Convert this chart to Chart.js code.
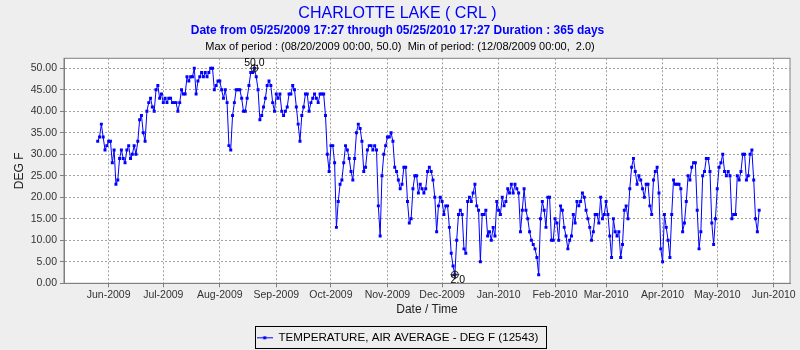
<!DOCTYPE html>
<html>
<head>
<meta charset="utf-8">
<script src="https://cdn.jsdelivr.net/npm/chart.js@4.4.1/dist/chart.umd.min.js"></script>
<style>
    html, body { margin: 0; padding: 0; background: #eeeeee; }
    #chart_wrap { width: 800px; height: 350px; position: relative; }
</style>
</head>
<body>
<div id="chart_wrap"><canvas id="temperature_chart"></canvas></div>
<script>
// daily air temperature, first value is 05/26/2009
const startDate = "2009-05-26";
const temperatures = [
    33, 34, 37, 34, 31, 32, 33, 33, 28, 31, 23, 24, 29, 31, 29, 28, 31, 32, 29, 30,
    32, 30, 33, 38, 39, 35, 33, 40, 42, 43, 41, 40, 45, 46, 43, 44, 42, 43, 42, 43,
    43, 42, 42, 42, 40, 42, 45, 44, 44, 48, 47, 48, 48, 50, 44, 47, 48,
    49, 48, 49, 48, 49, 50, 50, 45, 46, 47, 47, 45, 43, 45, 42, 32, 31, 39, 42, 45,
    45, 45, 43, 40, 40, 43, 46, 49, 49, 50, 48, 45, 38, 39, 41, 43, 46, 47, 46, 42,
    40, 44, 43, 44, 40, 39, 40, 41, 44, 44, 46, 45, 41, 37, 33, 39, 41, 44, 44, 40,
    42, 43, 44, 43, 42, 44, 44, 44, 39, 30, 26, 32, 32, 28, 13, 19, 23, 24, 28, 32,
    31, 29, 26, 24, 29, 35, 37, 36, 33, 26, 27, 31, 32, 32, 31, 32, 31, 18, 11, 25,
    30, 32, 34, 34, 35, 33, 27, 26, 24, 22, 23, 27, 27, 19, 14, 15, 22, 25, 25, 21,
    23, 22, 21, 22, 26, 27, 26, 24, 20, 12, 18, 20,
    19, 16, 18, 18, 13, 7, 4, 2, 10, 16, 17, 16, 8, 7, 19, 20, 19, 21, 23, 18,
    17, 5, 16, 16, 17, 11, 12, 10, 13, 11, 19, 17, 16, 20, 18, 19, 22, 21, 23, 21,
    23, 22, 21, 12, 17, 22, 17, 15, 12, 10, 9, 8, 6, 2, 15, 19, 17, 13, 20, 20,
    10, 10, 15, 14, 10, 18,
    17, 13, 11, 8, 10, 11, 16, 14, 19, 18, 19, 21, 20, 17, 15, 13, 10, 12, 16, 16,
    14, 20, 15, 16, 19, 16, 11, 6, 15, 12, 11, 12, 6, 9, 17, 18, 15, 22, 27, 29,
    26, 23, 25, 24, 22, 20, 23, 23, 18, 16, 24, 26, 27, 21, 8, 5, 16, 13, 10,
    6, 16, 24, 23, 23, 23, 22, 12, 14, 19, 25, 24, 27, 28, 28, 17, 8, 12, 25, 26,
    29, 29, 26, 14, 9, 15, 22, 27, 28, 30, 26, 25, 26, 25, 15, 16, 16, 25, 24, 26,
    30, 30, 24, 25, 30, 31, 24, 15, 12, 17
];

const xTickLabels = ["Jun-2009", "Jul-2009", "Aug-2009", "Sep-2009", "Oct-2009", "Nov-2009", "Dec-2009",
    "Jan-2010", "Feb-2010", "Mar-2010", "Apr-2010", "May-2010", "Jun-2010"];
const yTicks = [0, 5, 10, 15, 20, 25, 30, 35, 40, 45, 50];
const xRange = ["2009-05-07T12:00:00Z", "2010-06-09T22:00:00Z"];
const yRange = [0, 52.3];

const chartTitle = "CHARLOTTE LAKE ( CRL )";
const chartSubtitle = "Date from 05/25/2009 17:27 through 05/25/2010 17:27 Duration : 365 days";
const periodText = "Max of period : (08/20/2009 00:00, 50.0)  Min of period: (12/08/2009 00:00,  2.0)";
const seriesName = "TEMPERATURE, AIR AVERAGE - DEG F (12543)";
const maxMark = { date: "2009-08-20", label: "50.0" };
const minMark = { date: "2009-12-08", label: "2.0" };

const DAY = 86400000;
const MONTHS = ["Jan", "Feb", "Mar", "Apr", "May", "Jun", "Jul", "Aug", "Sep", "Oct", "Nov", "Dec"];
const t0 = Date.parse(startDate + "T00:00:00Z");
const points = temperatures.map((v, i) => ({ x: t0 + i * DAY, y: v }));
const monthTicks = xTickLabels.map(l => Date.UTC(+l.slice(4), MONTHS.indexOf(l.slice(0, 3)), 1));

const FONT = "'Liberation Sans', Arial, sans-serif";
Chart.defaults.font.family = FONT;

// little "-*-" icon for the legend
const legendIcon = document.createElement("canvas");
legendIcon.width = 16;
legendIcon.height = 5;
(function () {
    const c = legendIcon.getContext("2d");
    c.strokeStyle = "#0000ff";
    c.lineWidth = 1;
    c.beginPath();
    c.moveTo(0, 2.5);
    c.lineTo(16, 2.5);
    c.stroke();
    c.fillStyle = "#0000ff";
    c.fillRect(6.5, 1, 3, 3);
})();

function drawMark(chart, mark, above) {
    const idx = points.findIndex(p => p.x === Date.parse(mark.date + "T00:00:00Z"));
    if (idx < 0) return;
    const ctx = chart.ctx;
    const px = chart.scales.x.getPixelForValue(points[idx].x);
    const py = chart.scales.y.getPixelForValue(points[idx].y);
    ctx.save();
    ctx.strokeStyle = "#222";
    ctx.lineWidth = 1;
    ctx.beginPath();
    ctx.arc(px, py, 3.5, 0, Math.PI * 2);
    ctx.moveTo(px - 4.5, py);
    ctx.lineTo(px + 4.5, py);
    ctx.moveTo(px, py - 4.5);
    ctx.lineTo(px, py + 4.5);
    ctx.stroke();
    ctx.fillStyle = "#000";
    ctx.font = "10.5px " + FONT;
    ctx.textAlign = "center";
    if (above) {
        ctx.textBaseline = "alphabetic";
        ctx.fillText(mark.label, px, py - 2.5);
    } else {
        ctx.textBaseline = "top";
        ctx.fillText(mark.label, px + 3, py);
    }
    ctx.restore();
}

const plotFrame = {
    id: "plotFrame",
    beforeDraw(chart) {
        const a = chart.chartArea;
        chart.ctx.save();
        chart.ctx.fillStyle = "#ffffff";
        chart.ctx.fillRect(a.left, a.top, a.width, a.height);
        chart.ctx.restore();
    },
    afterDatasetsDraw(chart) {
        const a = chart.chartArea;
        const ctx = chart.ctx;
        ctx.save();
        ctx.strokeStyle = "#808080";
        ctx.lineWidth = 1;
        ctx.strokeRect(a.left, a.top, a.width, a.height);
        ctx.restore();
        drawMark(chart, maxMark, true);
        drawMark(chart, minMark, false);
    },
    afterDraw(chart) {
        const ctx = chart.ctx;
        ctx.save();
        ctx.fillStyle = "#000";
        ctx.font = "11px " + FONT;
        ctx.textAlign = "center";
        ctx.textBaseline = "middle";
        ctx.fillText(periodText, 400, 46.5);
        const hit = chart.legend.legendHitBoxes[0];
        if (hit) {
            ctx.strokeStyle = "#000";
            ctx.lineWidth = 1;
            ctx.strokeRect(Math.round(hit.left - 2) + 0.5, Math.round(hit.top - 6) + 0.5, Math.round(hit.width + 9), 22);
        }
        ctx.restore();
    }
};

new Chart(document.getElementById("temperature_chart"), {
    type: "line",
    data: {
        datasets: [{
            label: seriesName,
            data: points,
            borderColor: "#0000ff",
            backgroundColor: "#0000ff",
            borderWidth: 1,
            pointStyle: "rect",
            pointRadius: 2.1,
            pointBorderWidth: 0,
            pointBackgroundColor: "#0000ff",
            tension: 0
        }]
    },
    options: {
        responsive: true,
        maintainAspectRatio: false,
        animation: false,
        layout: {
            padding: { top: 0, left: 5, right: 10, bottom: 0 }
        },
        scales: {
            x: {
                type: "linear",
                min: Date.parse(xRange[0]),
                max: Date.parse(xRange[1]),
                afterBuildTicks: (scale) => {
                    scale.ticks = monthTicks.map(v => ({ value: v }));
                },
                afterFit: (scale) => {
                    scale.height = 48.7;
                },
                ticks: {
                    autoSkip: false,
                    maxRotation: 0,
                    padding: 1.5,
                    color: "#333",
                    font: { size: 10.5 },
                    callback: (value, index) => xTickLabels[index]
                },
                grid: {
                    color: "#a0a0a0",
                    tickLength: 4,
                    tickColor: "#808080",
                    tickBorderDash: []
                },
                border: { color: "#808080", dash: [2, 2] },
                title: {
                    display: true,
                    text: "Date / Time",
                    color: "#222",
                    font: { size: 12 },
                    padding: { top: 0, bottom: 14.8 }
                }
            },
            y: {
                min: yRange[0],
                max: yRange[1],
                afterBuildTicks: (scale) => {
                    scale.ticks = yTicks.map(v => ({ value: v }));
                },
                afterFit: (scale) => {
                    scale.width = 59;
                },
                ticks: {
                    padding: 3,
                    color: "#333",
                    font: { size: 10.5 },
                    callback: (value) => value.toFixed(2)
                },
                grid: {
                    color: "#a0a0a0",
                    tickLength: 4,
                    tickColor: "#808080",
                    tickBorderDash: []
                },
                border: { color: "#808080", dash: [2, 2] },
                title: {
                    display: true,
                    text: "DEG F",
                    color: "#222",
                    font: { size: 12 },
                    padding: { top: 7.5, bottom: 0 }
                }
            }
        },
        plugins: {
            title: {
                display: true,
                text: chartTitle,
                color: "#0000ff",
                font: { size: 16, weight: "normal" },
                padding: { top: 3.5, bottom: 0.3 }
            },
            subtitle: {
                display: true,
                text: chartSubtitle,
                color: "#0000ff",
                font: { size: 12, weight: "bold" },
                padding: { top: 0, bottom: 20.9 }
            },
            legend: {
                display: true,
                position: "bottom",
                maxHeight: 18,
                labels: {
                    usePointStyle: true,
                    pointStyle: legendIcon,
                    pointStyleWidth: 16,
                    padding: 0,
                    color: "#000",
                    font: { size: 11.6 }
                }
            },
            tooltip: {
                enabled: false
            }
        }
    },
    plugins: [plotFrame]
});
</script>
</body>
</html>
